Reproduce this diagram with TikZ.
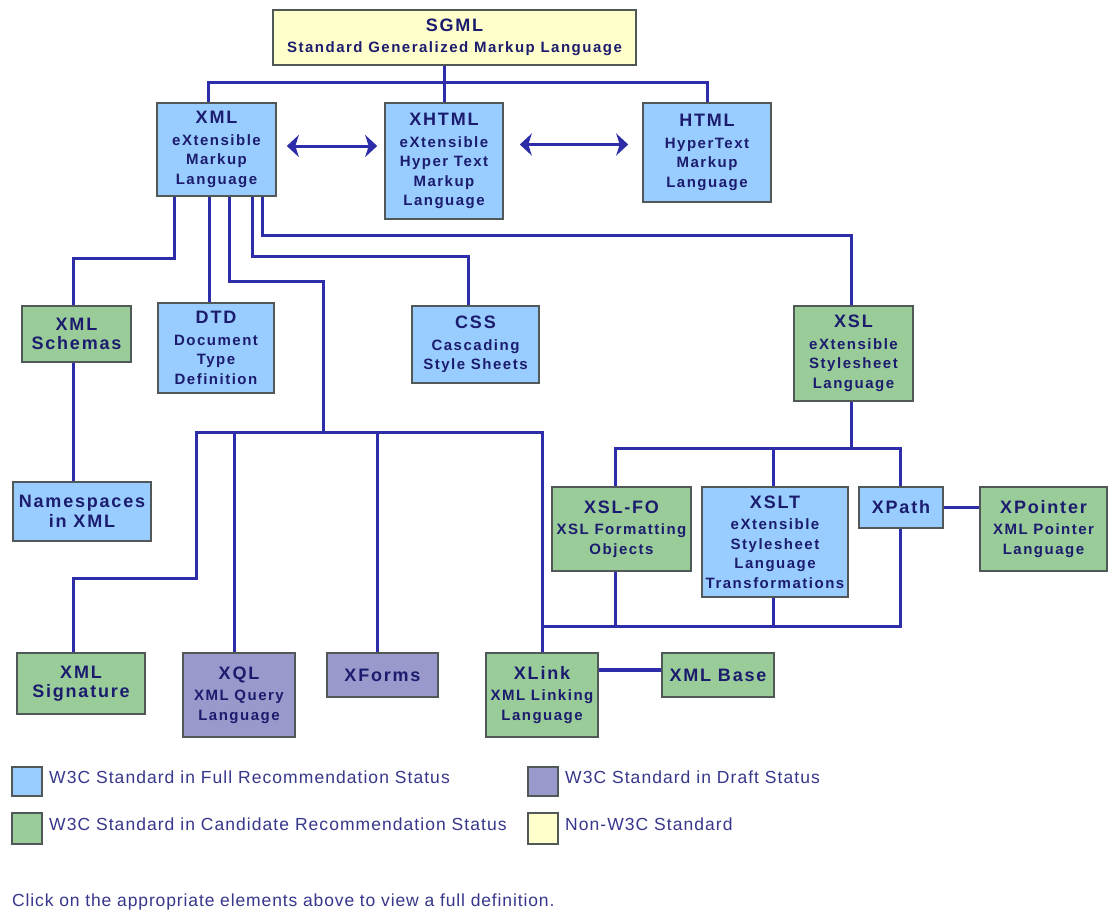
\documentclass[tikz,border=0pt]{standalone}
\usepackage{fontspec}
\setmainfont{Liberation Sans}
\newfontfamily\boxfont{Liberation Sans}[LetterSpace=10]
\newfontfamily\legfont{Liberation Sans}[LetterSpace=6]
\newfontfamily\notefont{Liberation Sans}[LetterSpace=5]
\usetikzlibrary{arrows.meta,calc}

\definecolor{fullrec}{RGB}{153,204,255}
\definecolor{candrec}{RGB}{153,204,153}
\definecolor{draftst}{RGB}{153,153,204}
\definecolor{nonw3c}{RGB}{255,255,204}
\definecolor{linkblue}{RGB}{45,45,170}
\definecolor{boxtext}{RGB}{28,28,110}
\definecolor{legtext}{RGB}{55,55,140}
\definecolor{boxedge}{RGB}{80,88,88}

\newcommand\boxtitle[1]{{\fontsize{18}{21}\selectfont #1}}
% \stdbox{name}{fill}{left}{top}{right}{bottom}{text}
\newcommand\stdbox[7]{%
  \node[stdnode, fill=#2, minimum width={#5-#3}, minimum height={#6-#4}]
    (#1) at ({(#3+#5)/2},{(#4+#6)/2}) {#7};}

\tikzset{
  stdnode/.style={draw=boxedge, line width=1.6pt, align=center, inner sep=0pt,
    text=boxtext, font=\boxfont\bfseries\fontsize{15}{19.5}\selectfont},
  conn/.style={draw=linkblue, line width=3pt},
  baselink/.style={draw=linkblue, line width=4.5pt},
  dblarrow/.style={conn, {Stealth[length=12pt,width=22pt,inset=3.5pt]}-{Stealth[length=12pt,width=22pt,inset=3.5pt]}},
  legtxt/.style={anchor=west, inner sep=0pt, text=legtext, font=\legfont\fontsize{17.5}{20}\selectfont},
  notetxt/.style={anchor=west, inner sep=0pt, text=legtext, font=\notefont\fontsize{17.5}{20}\selectfont},
}

\begin{document}
\begin{tikzpicture}[x=1pt,y=-1pt]
\fill[white] (0,0) rectangle (1108,911);
\useasboundingbox (0,0) rectangle (1108,911);

% ---- boxes ----
\stdbox{sgml}{nonw3c}{273}{10}{636}{65}{\boxtitle{SGML}\\[1pt]Standard Generalized Markup Language}
\stdbox{xml}{fullrec}{157}{103}{276}{196}{\boxtitle{XML}\\[2pt]eXtensible\\Markup\\Language}
\stdbox{xhtml}{fullrec}{385}{103}{503}{219}{\boxtitle{XHTML}\\[2pt]eXtensible\\Hyper Text\\Markup\\Language}
\stdbox{html}{fullrec}{643}{103}{771}{202}{\boxtitle{HTML}\\[2pt]HyperText\\Markup\\Language}

\stdbox{schemas}{candrec}{22}{306}{131}{362}{\boxtitle{XML}\\\boxtitle{Schemas}}
\stdbox{dtd}{fullrec}{158}{303}{274}{393}{\boxtitle{DTD}\\[2pt]Document\\Type\\Definition}
\stdbox{css}{fullrec}{412}{306}{539}{383}{\boxtitle{CSS}\\[2pt]Cascading\\Style Sheets}
\stdbox{xsl}{candrec}{794}{306}{913}{401}{\boxtitle{XSL}\\[2pt]eXtensible\\Stylesheet\\Language}

\stdbox{ns}{fullrec}{13}{482}{151}{541}{\boxtitle{Namespaces}\\\boxtitle{in XML}}
\stdbox{xslfo}{candrec}{552}{487}{691}{571}{\boxtitle{XSL-FO}\\[2pt]XSL Formatting\\Objects}
\stdbox{xslt}{fullrec}{702}{487}{848}{597}{\boxtitle{XSLT}\\[2pt]eXtensible\\Stylesheet\\Language\\Transformations}
\stdbox{xpath}{fullrec}{859}{487}{943}{528}{\boxtitle{XPath}}
\stdbox{xpointer}{candrec}{980}{487}{1107}{571}{\boxtitle{XPointer}\\[2pt]XML Pointer\\Language}

\stdbox{sig}{candrec}{17}{653}{145}{714}{\boxtitle{XML}\\\boxtitle{Signature}}
\stdbox{xql}{draftst}{183}{653}{295}{737}{\boxtitle{XQL}\\[2pt]XML Query\\Language}
\stdbox{xforms}{draftst}{327}{653}{438}{697}{\boxtitle{XForms}}
\stdbox{xlink}{candrec}{486}{653}{598}{737}{\boxtitle{XLink}\\[2pt]XML Linking\\Language}
\stdbox{xmlbase}{candrec}{662}{653}{774}{697}{\boxtitle{XML Base}}

% ---- junction points ----
\coordinate (sgmlbus) at (442,82);
\coordinate (hub) at (323,432);
\coordinate (leftbus) at (196,432);
\coordinate (xslbus) at (851,448);
\coordinate (lowbus) at (541,626);

% ---- SGML family ----
\draw[conn] (sgml.south -| xhtml.north) -- (xhtml.north);
\draw[conn] ([xshift=-8.5pt]xml.north) |- (sgmlbus) -| (html.north);

% ---- equivalence arrows ----
\coordinate (arrA) at ([xshift=10pt,yshift=3.5pt]xml.east);
\draw[dblarrow] (arrA) -- ($(xhtml.west |- arrA)+(-7,0)$);
\coordinate (arrB) at ([xshift=16pt,yshift=16.5pt]xhtml.east);
\draw[dblarrow] (arrB) -- ($(html.west |- arrB)+(-14,0)$);

% ---- XML offspring ----
\draw[conn] ([xshift=-42.5pt]xml.south) -- ++(0,62) -| ([xshift=-3.5pt]schemas.north);
\draw[conn] ([xshift=-7.5pt]xml.south) -- ([xshift=-7.5pt]xml.south |- dtd.north);
\draw[conn] ([xshift=12.5pt]xml.south) -- ++(0,85) -| (hub);
\draw[conn] ([xshift=35.5pt]xml.south) -- ++(0,60) -| ([xshift=-7.5pt]css.north);
\draw[conn] ([xshift=45.5pt]xml.south) -- ++(0,39) -| ([xshift=-2.5pt]xsl.north);

\draw[conn] ([xshift=-3.5pt]schemas.south) -- ([xshift=-3.5pt]schemas.south |- ns.north);

% ---- bus under XML ----
\draw[conn] (xlink.north) |- (leftbus) -- ++(0,146) -| ([xshift=-8pt]sig.north);
\draw[conn] ([xshift=-5pt]xql.north) -- ([xshift=-5pt]xql.north |- leftbus);
\draw[conn] ([xshift=-5.5pt]xforms.north) -- ([xshift=-5.5pt]xforms.north |- leftbus);

% ---- XSL family ----
\draw[conn] ([xshift=-2.5pt]xsl.south) -- (xslbus);
\draw[conn] ([xshift=-6.5pt]xslfo.north) |- (xslbus) -| ([xshift=-1pt]xpath.north);
\draw[conn] ([xshift=-2pt]xslt.north) -- ([xshift=-2pt]xslt.north |- xslbus);
\draw[conn] (xpath.east) -- (xpath.east -| xpointer.west);

% ---- links down to XLink ----
\draw[conn] ([xshift=-6.5pt]xslfo.south) -- ([xshift=-6.5pt]xslfo.south |- lowbus);
\draw[conn] ([xshift=-2pt]xslt.south) -- ([xshift=-2pt]xslt.south |- lowbus);
\draw[conn] ([xshift=-1pt]xpath.south) |- (lowbus);
\draw[baselink] ([yshift=5pt]xmlbase.west) -- ([yshift=5pt]xmlbase.west -| xlink.east);

% ---- legend ----
\stdbox{kfull}{fullrec}{12}{767}{42}{796}{}
\stdbox{kdraft}{draftst}{528}{767}{558}{796}{}
\stdbox{kcand}{candrec}{12}{813}{42}{844}{}
\stdbox{knon}{nonw3c}{528}{813}{558}{844}{}
\node[legtxt] (tfull) at (49,777) {W3C Standard in Full Recommendation Status};
\node[legtxt] (tdraft) at (565,777) {W3C Standard in Draft Status};
\node[legtxt] (tcand) at (49,824) {W3C Standard in Candidate Recommendation Status};
\node[legtxt] (tnon) at (565,824) {Non-W3C Standard};
\node[notetxt] (note) at (12,902) {Click on the appropriate elements above to view a full definition.};
\end{tikzpicture}
\end{document}
